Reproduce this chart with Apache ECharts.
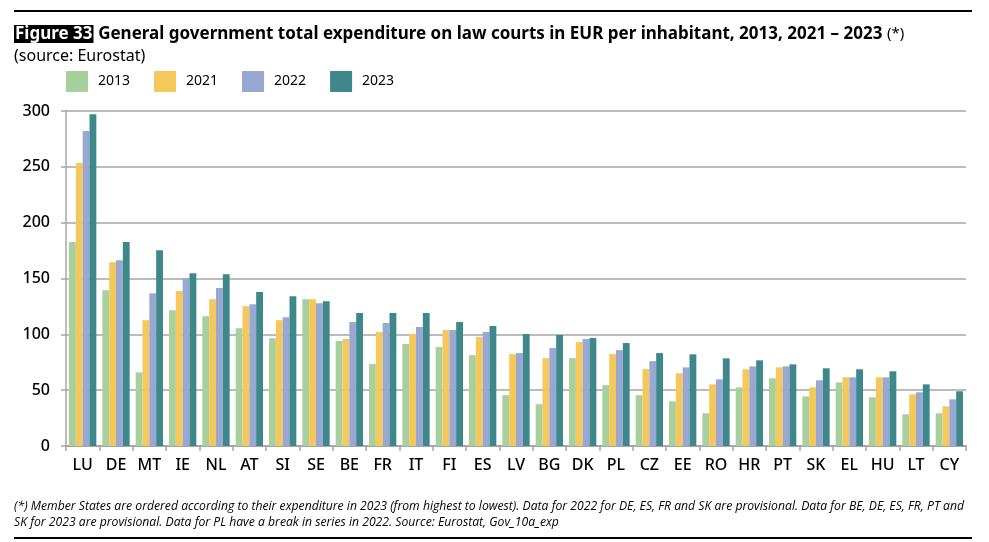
<!DOCTYPE html>
<html>
<head>
<meta charset="utf-8">
<script src="https://cdn.jsdelivr.net/npm/echarts@6/dist/echarts.min.js"></script>
<style>
  html, body { margin: 0; padding: 0; background: #fff; }
  #chart { width: 989px; height: 542px; }
</style>
</head>
<body>
<div id="chart"></div>
<script>
var countries = ['LU', 'DE', 'MT', 'IE', 'NL', 'AT', 'SI', 'SE', 'BE', 'FR', 'IT', 'FI', 'ES', 'LV',
    'BG', 'DK', 'PL', 'CZ', 'EE', 'RO', 'HR', 'PT', 'SK', 'EL', 'HU', 'LT', 'CY'];

var years = ['2013', '2021', '2022', '2023'];

var values2013 = [182.6, 139.5, 66.0, 121.6, 116.2, 105.5, 96.5, 131.5, 94.0, 73.4, 91.3, 88.6, 81.4, 45.5,
    37.4, 78.7, 54.5, 45.5, 40.0, 29.3, 52.5, 60.6, 44.5, 57.0, 43.6, 28.4, 29.3];
var values2021 = [253.4, 164.6, 112.7, 138.7, 131.5, 125.2, 112.7, 131.5, 95.8, 102.1, 100.3, 103.9, 97.6, 82.3,
    78.7, 93.1, 82.3, 68.9, 65.1, 55.2, 68.7, 70.4, 52.5, 61.5, 61.5, 46.3, 35.5];
var values2022 = [282.0, 166.4, 136.9, 150.3, 141.4, 127.0, 115.3, 127.9, 111.0, 110.2, 106.6, 103.9, 102.1, 83.2,
    87.7, 95.8, 85.9, 76.0, 70.4, 59.7, 71.3, 71.3, 58.8, 61.5, 61.5, 48.1, 41.8];
var values2023 = [297.0, 182.6, 175.4, 154.8, 153.9, 137.8, 134.2, 129.7, 119.2, 119.2, 119.2, 111.0, 107.5, 100.3,
    99.4, 96.7, 92.2, 83.2, 82.1, 78.5, 76.7, 73.1, 69.6, 68.7, 66.9, 55.2, 49.0];

var yearColors = ['#a7d09d', '#f4c85a', '#98a8d3', '#3e878b'];

var titleText = 'General government total expenditure on law courts in EUR per inhabitant, 2013, 2021 \u2013 2023';
var noteLine1 = '(*) Member States are ordered according to their expenditure in 2023 (from highest to lowest). Data for 2022 for DE, ES, FR and SK are provisional. Data for BE, DE, ES, FR, PT and';
var noteLine2 = 'SK for 2023 are provisional. Data for PL have a break in series in 2022. Source: Eurostat, Gov_10a_exp';

var chart = echarts.init(document.getElementById('chart'));

var allValues = [values2013, values2021, values2022, values2023];
var seriesList = years.map(function (y, i) {
    return {
        name: y,
        type: 'bar',
        data: allValues[i],
        barGap: '0%',
        barCategoryGap: '18%',
        itemStyle: { color: yearColors[i] }
    };
});

var font = '"Noto Sans", "DejaVu Sans", sans-serif';

var option = {
    textStyle: { fontFamily: font },
    title: {
        left: 14,
        top: 23,
        padding: 0,
        text: '{fig|Figure 33} {main|' + titleText + '} {star|(*)}\n{sub|(source: Eurostat)}',
        textStyle: {
            rich: {
                fig: {
                    color: '#fff',
                    backgroundColor: '#000',
                    fontWeight: 'bold',
                    fontSize: 17,
                    fontFamily: font,
                    padding: [1, 1, 0, 1],
                    lineHeight: 22
                },
                main: {
                    color: '#000',
                    fontWeight: 'bold',
                    fontSize: 17,
                    fontFamily: font,
                    lineHeight: 22
                },
                star: {
                    color: '#000',
                    fontWeight: 'normal',
                    fontSize: 15,
                    fontFamily: font,
                    lineHeight: 22
                },
                sub: {
                    color: '#000',
                    fontWeight: 'normal',
                    fontSize: 16,
                    fontFamily: font,
                    lineHeight: 22
                }
            }
        }
    },
    legend: {
        data: years,
        left: 66,
        top: 71,
        padding: 0,
        itemWidth: 22,
        itemHeight: 21,
        itemGap: 24,
        icon: 'rect',
        textStyle: {
            fontSize: 14,
            color: '#000',
            fontFamily: font,
            padding: [20, 0, 0, 5]
        }
    },
    grid: {
        left: 66,
        right: 23,
        top: 111,
        bottom: 96
    },
    xAxis: {
        type: 'category',
        data: countries,
        axisLine: { lineStyle: { color: '#a6a6a6', width: 2 } },
        axisTick: { show: true, length: 5, lineStyle: { color: '#a6a6a6', width: 1.5 } },
        axisLabel: { fontSize: 16, fontWeight: 500, color: '#000', margin: 11, interval: 0 }
    },
    yAxis: {
        type: 'value',
        min: 0,
        max: 300,
        interval: 50,
        axisLine: { show: true, lineStyle: { color: '#a6a6a6', width: 1.5 } },
        axisTick: { show: true, length: 5, lineStyle: { color: '#a6a6a6', width: 1.5 } },
        axisLabel: { fontSize: 16, fontWeight: 500, color: '#000', margin: 16 },
        splitLine: { lineStyle: { color: '#a6a6a6', width: 1.5 } }
    },
    series: seriesList,
    graphic: [
        {
            type: 'line',
            shape: { x1: 14, y1: 11, x2: 972, y2: 11 },
            style: { stroke: '#000', lineWidth: 2 }
        },
        {
            type: 'line',
            shape: { x1: 14, y1: 538, x2: 972, y2: 538 },
            style: { stroke: '#000', lineWidth: 2 }
        },
        {
            type: 'text',
            left: 14,
            top: 499,
            style: {
                text: noteLine1 + '\n' + noteLine2,
                fontSize: 12.2,
                fontStyle: 'italic',
                fontFamily: '"Liberation Sans Narrow", "Open Sans", sans-serif',
                lineHeight: 16,
                fill: '#000'
            }
        }
    ]
};

chart.setOption(option);

window.addEventListener('resize', function () {
    if (chart != null && chart != undefined) {
        chart.resize();
    }
});
</script>
</body>
</html>
